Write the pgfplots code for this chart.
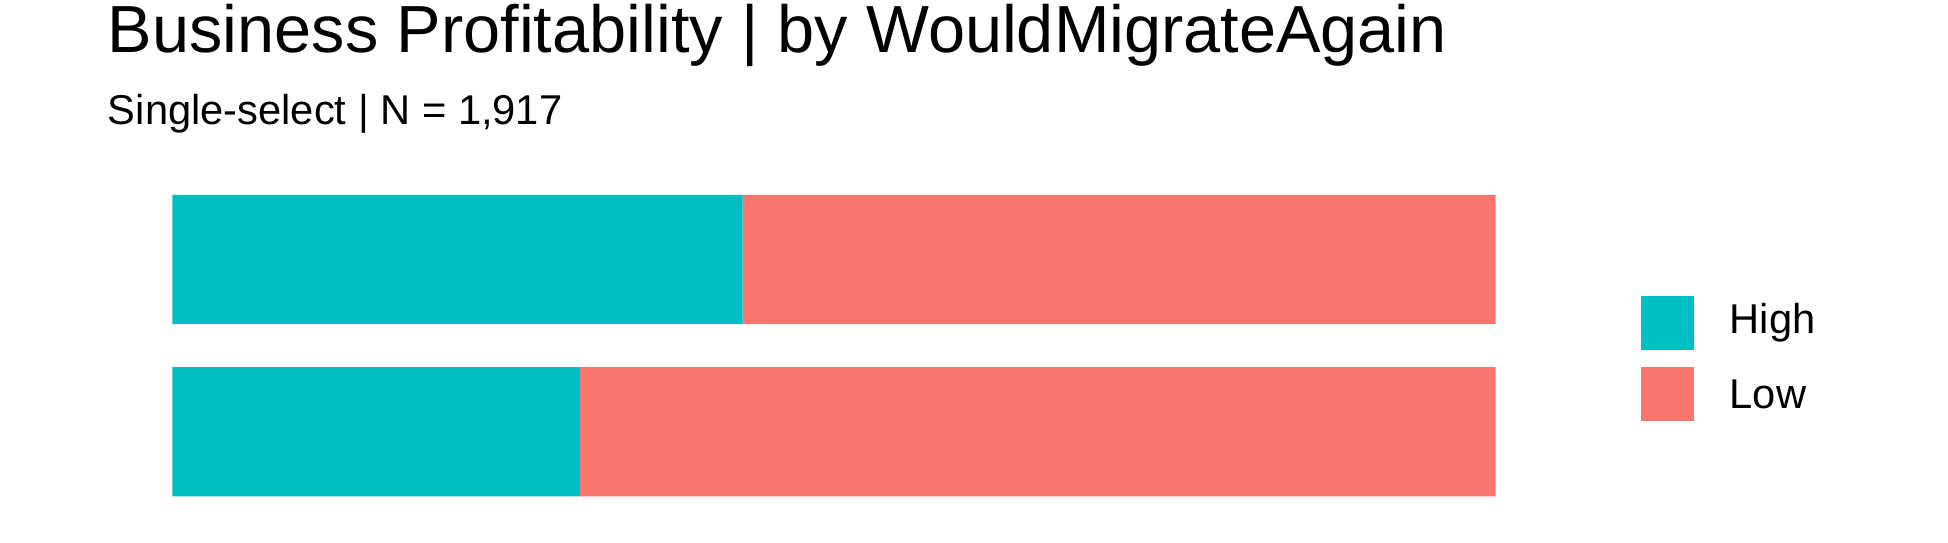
\documentclass[border=0pt]{standalone}
\usepackage{pgfplots}
\pgfplotsset{compat=1.18}
\usepackage{fontspec}
\setmainfont{Liberation Sans}
\definecolor{cHigh}{HTML}{00BFC4}
\definecolor{cLow}{HTML}{F8766D}
\begin{document}
\begin{tikzpicture}
\path[use as bounding box] (-51.7pt,-12.7pt) rectangle (532.7pt,150.2pt);
\begin{axis}[at={(0,0)},anchor=south west,scale only axis,width=397pt,height=93pt,
  xbar stacked, bar width=0.75, xmin=0,xmax=100,ymin=-0.4,ymax=1.4,
  axis lines=none, ytick={0,1}, yticklabels={Yes,No},
  hide x axis, major tick length=0,
  yticklabel style={inner sep=0pt,xshift=-26pt,font=\fontsize{12.5}{14}\selectfont},
  clip=false]
\addplot[fill=cHigh,draw=none] coordinates {(30.8,0) (43.1,1)};
\addplot[fill=cLow,draw=none] coordinates {(69.2,0) (56.9,1)};
\node[font=\fontsize{12}{14}\selectfont] at (axis cs:21.55,1) {43.1\%};
\node[font=\fontsize{12}{14}\selectfont] at (axis cs:71.55,1) {56.9\%};
\node[font=\fontsize{12}{14}\selectfont] at (axis cs:15.4,0) {30.8\%};
\node[font=\fontsize{12}{14}\selectfont] at (axis cs:65.4,0) {69.2\%};
\end{axis}
\node[anchor=base west,inner sep=0pt,font=\fontsize{20}{24}\selectfont] at (-19.5pt,134.5pt) {Business Profitability | by WouldMigrateAgain};
\node[anchor=base west,inner sep=0pt,font=\fontsize{12.5}{15}\selectfont] at (-19.5pt,112.8pt) {Single-select | N = 1,917};
\fill[cHigh] (440.5pt,45.3pt) rectangle (456.6pt,61.4pt);
\fill[cLow] (440.5pt,24pt) rectangle (456.6pt,40pt);
\node[anchor=west,inner sep=0pt,font=\fontsize{12.5}{15}\selectfont] at (467pt,53.3pt) {High};
\node[anchor=west,inner sep=0pt,font=\fontsize{12.5}{15}\selectfont] at (467pt,32pt) {Low};
\end{tikzpicture}
\end{document}
